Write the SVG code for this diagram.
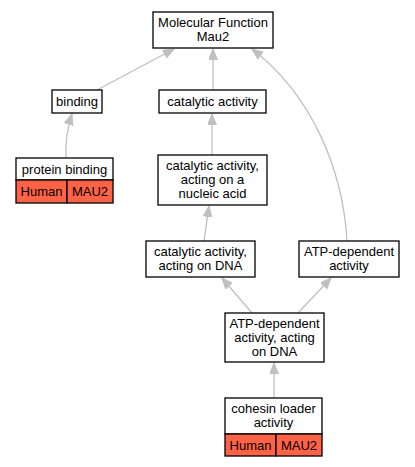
<svg xmlns="http://www.w3.org/2000/svg" width="415" height="467" viewBox="0 0 415 467">
<style>
.box{fill:#fff;stroke:#000;stroke-width:1.3}
.red{fill:#ff6347;stroke:#000;stroke-width:1.3}
text{font-family:"Liberation Sans",Arial,sans-serif;font-size:13px;text-anchor:middle;fill:#000}
.e{fill:none;stroke:#c0c0c0;stroke-width:1.3}
</style>
<defs>
<marker id="ah" markerUnits="userSpaceOnUse" markerWidth="12" markerHeight="10" refX="11" refY="4.5" orient="auto">
<path d="M0,0 L11,4.5 L0,9 z" fill="#c0c0c0" stroke="#c0c0c0"/>
</marker>
</defs>
<rect width="415" height="467" fill="#fff"/>
<g id="connectors">
<path class="e" d="M97,90 L174,49" marker-end="url(#ah)"/>
<path class="e" d="M213,90 L213,49" marker-end="url(#ah)"/>
<path class="e" d="M347,241 C343,170 312,95 252,49" marker-end="url(#ah)"/>
<path class="e" d="M66,158 C65,140 68,126 72,114" marker-end="url(#ah)"/>
<path class="e" d="M212,155 L212,114" marker-end="url(#ah)"/>
<path class="e" d="M204,241 L209,206" marker-end="url(#ah)"/>
<path class="e" d="M252,313 L222,278" marker-end="url(#ah)"/>
<path class="e" d="M298,313 L331,278" marker-end="url(#ah)"/>
<path class="e" d="M274,398 L274,363" marker-end="url(#ah)"/>
</g>
<g id="mf">
<rect class="box" x="153" y="12" width="120" height="36"/>
<text x="213" y="27">Molecular Function</text>
<text x="213" y="41">Mau2</text>
</g>
<g id="binding">
<rect class="box" x="52" y="90" width="50" height="23"/>
<text x="77" y="106">binding</text>
</g>
<g id="catalytic">
<rect class="box" x="159" y="90" width="107" height="23"/>
<text x="212.5" y="106">catalytic activity</text>
</g>
<g id="protein_binding">
<rect class="box" x="16" y="158" width="97" height="22"/>
<text x="64.5" y="173.5">protein binding</text>
<rect class="red" x="16" y="180" width="51" height="23"/>
<rect class="red" x="67" y="180" width="46" height="23"/>
<text x="41.5" y="196">Human</text>
<text x="90" y="196">MAU2</text>
</g>
<g id="nucleic">
<rect class="box" x="158" y="155" width="109" height="50"/>
<text x="212.5" y="170">catalytic activity,</text>
<text x="212.5" y="184">acting on a</text>
<text x="212.5" y="198">nucleic acid</text>
</g>
<g id="dna">
<rect class="box" x="146" y="241" width="109" height="36"/>
<text x="200.5" y="256">catalytic activity,</text>
<text x="200.5" y="270">acting on DNA</text>
</g>
<g id="atp">
<rect class="box" x="299" y="241" width="100" height="36"/>
<text x="349" y="256">ATP-dependent</text>
<text x="349" y="270">activity</text>
</g>
<g id="atp_dna">
<rect class="box" x="225" y="313" width="99" height="49"/>
<text x="274.5" y="328">ATP-dependent</text>
<text x="274.5" y="342">activity, acting</text>
<text x="274.5" y="356">on DNA</text>
</g>
<g id="cohesin">
<rect class="box" x="225" y="398" width="97" height="36"/>
<text x="273.5" y="413">cohesin loader</text>
<text x="273.5" y="427">activity</text>
<rect class="red" x="225" y="434" width="51" height="22"/>
<rect class="red" x="276" y="434" width="46" height="22"/>
<text x="250.5" y="449.5">Human</text>
<text x="299" y="449.5">MAU2</text>
</g>
</svg>
